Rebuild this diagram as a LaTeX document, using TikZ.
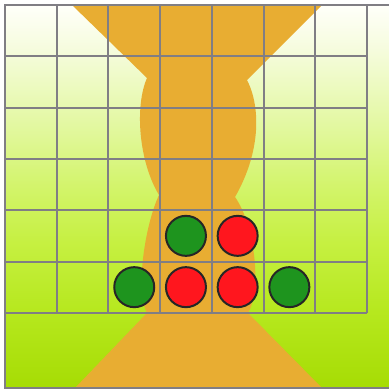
\documentclass[tikz,border=0pt]{standalone}
\usetikzlibrary{calc}
\definecolor{gridgray}{RGB}{128,126,132}
\definecolor{sand}{RGB}{232,173,50}
\definecolor{stonegreen}{RGB}{30,148,30}
\definecolor{stonered}{RGB}{255,22,30}
\pgfdeclareverticalshading{boardbg}{100bp}{
  rgb(0bp)=(0.651,0.863,0.016);
  rgb(25bp)=(0.651,0.863,0.016);
  rgb(35bp)=(0.714,0.910,0.118);
  rgb(44bp)=(0.776,0.941,0.255);
  rgb(51bp)=(0.824,0.957,0.412);
  rgb(60bp)=(0.894,0.973,0.647);
  rgb(69bp)=(0.961,0.988,0.863);
  rgb(75bp)=(1,1,0.98);
  rgb(100bp)=(1,1,0.98)}
\tikzset{
  gridline/.style={draw=gridgray, line width=2bp},
  stone/.style={circle, draw=black!85, line width=2bp, minimum size=40bp, inner sep=0pt},
  gstone/.style={stone, fill=stonegreen},
  rstone/.style={stone, fill=stonered},
}
\begin{document}
\begin{tikzpicture}[x=1bp,y=-1bp]
\useasboundingbox (0,0) rectangle (389,390);
\fill[white] (0,0) rectangle (389,390);
% background gradient
\shade[shading=boardbg] (5,5) rectangle (389,388);
% hourglass
\fill[sand] (72,5) -- (147,78)
  .. controls (135,105) and (138,160) .. (159,195)
  .. controls (145,225) and (135,290) .. (147,313)
  -- (75,388) -- (322,388) -- (248,313)
  .. controls (262,290) and (255,225) .. (235,197)
  .. controls (262,150) and (260,105) .. (247,80)
  -- (322,5) -- cycle;
% grid
\foreach \k in {0,...,7} {
  \draw[gridline] ({5+51.7*\k},5) -- ({5+51.7*\k},312.8);
}
\foreach \k in {0,...,6} {
  \draw[gridline] (5,{5+51.3*\k}) -- (366.9,{5+51.3*\k});
}
% frame
\draw[gridline] (389,5) -- (5,5) -- (5,388) -- (389,388);
% stones
\node[gstone] (g1) at (185.95,235.85) {};
\node[rstone] (r1) at (237.65,235.85) {};
\node[gstone] (g2) at (134.25,287.15) {};
\node[rstone] (r2) at (185.95,287.15) {};
\node[rstone] (r3) at (237.65,287.15) {};
\node[gstone] (g3) at (289.35,287.15) {};
\end{tikzpicture}
\end{document}
